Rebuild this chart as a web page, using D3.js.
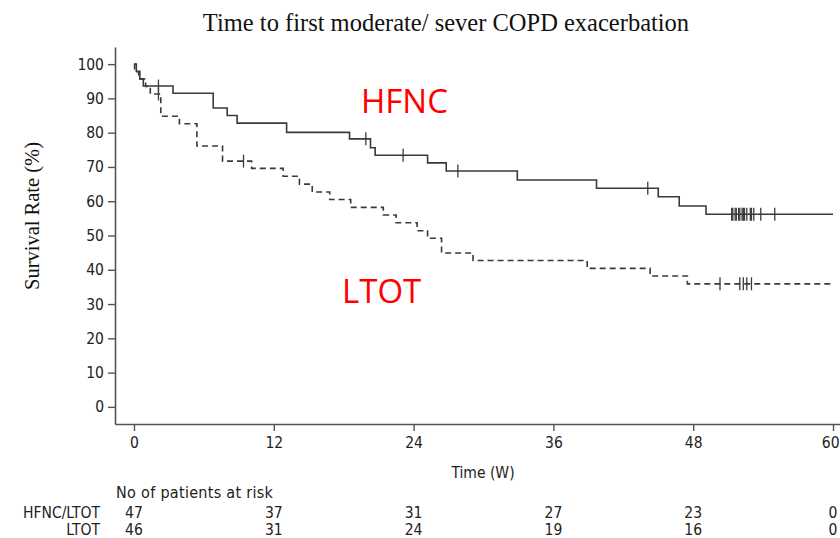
<!DOCTYPE html>
<html>
<head>
<meta charset="utf-8">
<script src="https://cdn.jsdelivr.net/npm/d3@7"></script>
<style>
  html, body { margin: 0; padding: 0; background: #fff; }
  svg { display: block; }
  .tick-font { font-family: "Liberation Sans Narrow", "DejaVu Sans Condensed", "Liberation Sans", sans-serif; }
</style>
</head>
<body>
<svg id="chart" width="840" height="538"></svg>
<script>
// Kaplan–Meier: time to first moderate/severe COPD exacerbation
const weekTicks = [0, 12, 24, 36, 48, 60];
const rateTicks = [0, 10, 20, 30, 40, 50, 60, 70, 80, 90, 100];

// HFNC/LTOT arm (solid line): event times (weeks) and survival (%)
const hfncTimes = [0, 0.2, 0.5, 0.8, 3.35, 6.8, 8.0, 8.85, 13.1, 18.5, 20.3, 20.7, 25.2, 26.8, 32.9, 39.7, 45.0, 46.8, 49.1, 60];
const hfncSurv  = [100, 97.9, 95.7, 93.6, 91.5, 87.2, 85.0, 82.8, 80.1, 78.2, 75.6, 73.4, 71.2, 68.8, 66.2, 63.8, 61.3, 58.6, 56.2, 56.2];
const hfncCensor = [2.1, 19.9, 23.1, 27.8, 44.1, 51.3, 51.4, 51.6, 51.7, 51.9, 52.0, 52.2, 52.3, 52.4, 52.6, 52.9, 53.0, 53.2, 53.8, 55.0];

// LTOT arm (dashed line)
const ltotTimes = [0, 0.05, 0.4, 1.0, 1.4, 2.3, 3.9, 5.4, 7.6, 10.1, 12.8, 14.2, 15.3, 16.8, 18.6, 21.4, 22.5, 24.3, 25.2, 26.4, 29.1, 38.9, 44.3, 47.5, 60];
const ltotSurv  = [100, 97.8, 95.7, 93.5, 91.3, 84.8, 82.6, 76.1, 71.7, 69.6, 67.3, 65.0, 62.7, 60.5, 58.2, 56.0, 53.7, 51.4, 49.2, 44.9, 42.7, 40.4, 38.2, 35.9, 35.9];
const ltotCensor = [2.1, 9.4, 50.3, 52.0, 52.3, 52.6, 53.0];

// Number at risk table
const riskGroups = ["HFNC/LTOT", "LTOT"];
const riskHfnc = [47, 37, 31, 27, 23, 0];
const riskLtot = [46, 31, 24, 19, 16, 0];

const svg = d3.select("#chart");
const lineColor = "#3a3a3a";
const axisColor = "#555";

const x = d3.scaleLinear().domain([-1.63, 60.6]).range([115, 840]);
const y = d3.scaleLinear().domain([-5, 105]).range([424, 47]);

// Title
svg.append("text")
  .attr("x", 446).attr("y", 31)
  .attr("text-anchor", "middle")
  .attr("font-family", "'Liberation Serif', 'Times New Roman', serif")
  .attr("font-size", 24.5)
  .attr("fill", "#111")
  .text("Time to first moderate/ sever COPD exacerbation");

// Y axis title
svg.append("text")
  .attr("transform", "translate(39,216) rotate(-90)")
  .attr("text-anchor", "middle")
  .attr("font-family", "'Liberation Serif', 'Times New Roman', serif")
  .attr("font-size", 20.5)
  .attr("fill", "#111")
  .text("Survival Rate (%)");

// Axes
const yAxis = d3.axisLeft(y).tickValues(rateTicks).tickSize(7).tickSizeOuter(0).tickPadding(4);
const yG = svg.append("g").attr("transform", `translate(${x.range()[0]},0)`).call(yAxis);
const xAxis = d3.axisBottom(x).tickValues(weekTicks).tickSize(7).tickSizeOuter(0).tickPadding(6);
const xG = svg.append("g").attr("transform", `translate(0,${y.range()[0]})`).call(xAxis);

[yG, xG].forEach(g => {
  g.select(".domain").attr("stroke", axisColor).attr("stroke-width", 1.6);
  g.selectAll(".tick line").attr("stroke", axisColor).attr("stroke-width", 1.4);
  g.selectAll(".tick text")
    .attr("class", "tick-font")
    .attr("font-size", 15.5)
    .attr("fill", "#222");
});
// keep the last week label inside the frame
xG.selectAll(".tick text").filter(d => d === weekTicks[weekTicks.length - 1])
  .attr("text-anchor", "end")
  .attr("x", 839 - x(weekTicks[weekTicks.length - 1]));

svg.append("text")
  .attr("class", "tick-font")
  .attr("x", 483).attr("y", 478)
  .attr("text-anchor", "middle")
  .attr("font-size", 15.5)
  .attr("fill", "#222")
  .text("Time (W)");

// Survival curves
const toPoints = (ts, ss) => ts.map((t, i) => [t, ss[i]]);
const step = d3.line().x(d => x(d[0])).y(d => y(d[1])).curve(d3.curveStepAfter);

const survAt = (ts, ss, t) => {
  let v = ss[0];
  for (let i = 0; i < ts.length; i++) if (ts[i] <= t) v = ss[i];
  return v;
};

function drawArm(ts, ss, censor, dash) {
  svg.append("path")
    .datum(toPoints(ts, ss))
    .attr("d", step)
    .attr("fill", "none")
    .attr("stroke", lineColor)
    .attr("stroke-width", 1.6)
    .attr("stroke-dasharray", dash);
  svg.append("g").selectAll("line")
    .data(censor)
    .join("line")
    .attr("x1", d => x(d)).attr("x2", d => x(d))
    .attr("y1", d => y(survAt(ts, ss, d)) - 6.5)
    .attr("y2", d => y(survAt(ts, ss, d)) + 6.5)
    .attr("stroke", lineColor)
    .attr("stroke-width", 1.3);
}
drawArm(hfncTimes, hfncSurv, hfncCensor, null);
drawArm(ltotTimes, ltotSurv, ltotCensor, "6,4");

// Group labels
svg.append("text")
  .attr("x", 361).attr("y", 113)
  .attr("font-family", "'Open Sans', sans-serif")
  .attr("font-size", 33)
  .attr("fill", "#ff0000")
  .text("HFNC");
svg.append("text")
  .attr("x", 342).attr("y", 303)
  .attr("font-family", "'Open Sans', sans-serif")
  .attr("font-size", 33)
  .attr("fill", "#ff0000")
  .text("LTOT");

// Patients-at-risk table
svg.append("text")
  .attr("class", "tick-font")
  .attr("x", 116).attr("y", 498)
  .attr("font-size", 16)
  .attr("letter-spacing", 0.3)
  .attr("fill", "#222")
  .text("No of patients at risk");

[riskHfnc, riskLtot].forEach((row, r) => {
  const yy = 518 + r * 16.5;
  svg.append("text")
    .attr("class", "tick-font")
    .attr("x", 100).attr("y", yy)
    .attr("text-anchor", "end")
    .attr("font-size", 15.5)
    .attr("fill", "#222")
    .text(riskGroups[r]);
  svg.append("g").selectAll("text")
    .data(row)
    .join("text")
    .attr("class", "tick-font")
    .attr("x", (d, i) => x(weekTicks[i]))
    .attr("y", yy)
    .attr("text-anchor", "middle")
    .attr("font-size", 15.5)
    .attr("fill", "#222")
    .text(d => d);
});
</script>
</body>
</html>
